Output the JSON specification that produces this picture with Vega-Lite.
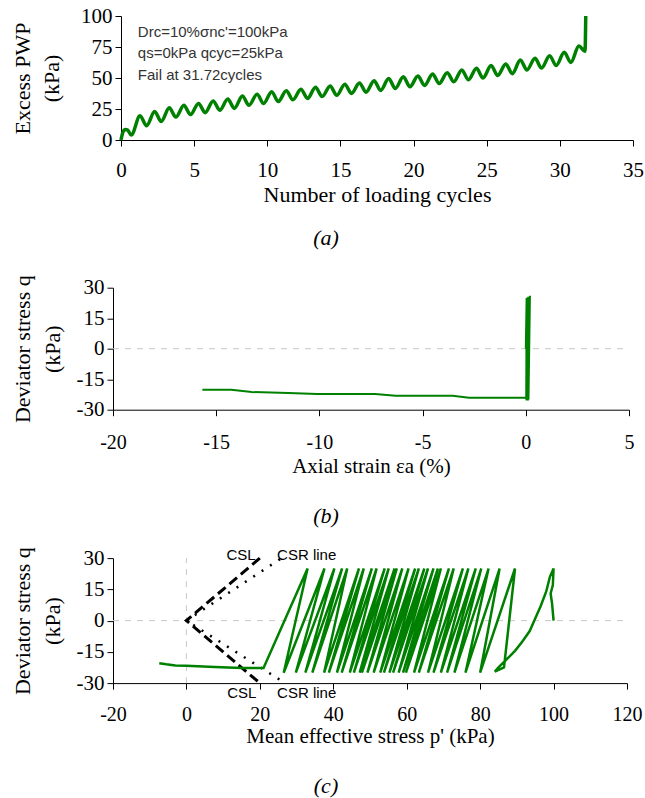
{
  "$schema": "https://vega.github.io/schema/vega-lite/v6.json",
  "background": "white",
  "padding": {"left": 11, "top": 5, "right": 0, "bottom": 0},
  "config": {
    "view": {"stroke": null},
    "axis": {"grid": false, "domainColor": "#000", "tickColor": "#000", "labelColor": "#000", "titleColor": "#000",
      "labelFont": "Liberation Serif", "titleFont": "Liberation Serif", "labelFontSize": 21, "titleFontSize": 22,
      "titleFontWeight": "normal", "tickSize": 6, "domainWidth": 1, "tickWidth": 1, "labelFlush": false, "labelOverlap": false, "labelPadding": 3},
    "title": {"font": "Liberation Serif", "fontSize": 22, "fontStyle": "italic", "fontWeight": "normal", "orient": "bottom", "anchor": "middle", "frame": "group", "color": "#000"}
  },
  "datasets": {
    "pwp": [
      {"N":0,"u":0},{"N":0.12,"u":6},{"N":0.3,"u":8.5},{"N":0.45,"u":8},{"N":0.7,"u":4},
      {"N":1.3,"u":19.5},{"N":1.75,"u":11.5},{"N":2.3,"u":23},{"N":2.75,"u":15},{"N":3.3,"u":26},{"N":3.75,"u":18.5},
      {"N":4.3,"u":28},{"N":4.75,"u":20.5},{"N":5.3,"u":29.5},{"N":5.75,"u":22},{"N":6.3,"u":31.5},{"N":6.75,"u":24},
      {"N":7.3,"u":33},{"N":7.75,"u":25.5},{"N":8.3,"u":35.5},{"N":8.75,"u":28},{"N":9.3,"u":36.8},{"N":9.75,"u":29.5},
      {"N":10.3,"u":39},{"N":10.75,"u":31},{"N":11.3,"u":39.8},{"N":11.75,"u":32.5},{"N":12.3,"u":41},{"N":12.75,"u":33.5},
      {"N":13.3,"u":42.5},{"N":13.75,"u":35},{"N":14.3,"u":43.5},{"N":14.75,"u":36},{"N":15.3,"u":45},{"N":15.75,"u":37.5},
      {"N":16.3,"u":46},{"N":16.75,"u":38.5},{"N":17.3,"u":47.8},{"N":17.75,"u":40},{"N":18.3,"u":49.5},{"N":18.75,"u":41.5},
      {"N":19.3,"u":51},{"N":19.75,"u":43},{"N":20.3,"u":51.6},{"N":20.75,"u":44},{"N":21.3,"u":53.2},{"N":21.75,"u":45.5},
      {"N":22.3,"u":54.3},{"N":22.75,"u":47},{"N":23.3,"u":56.5},{"N":23.75,"u":48.5},{"N":24.3,"u":57.8},{"N":24.75,"u":50},
      {"N":25.3,"u":60},{"N":25.75,"u":52},{"N":26.3,"u":61.3},{"N":26.75,"u":53.5},{"N":27.3,"u":64.5},{"N":27.75,"u":56.5},
      {"N":28.3,"u":65.9},{"N":28.75,"u":58},{"N":29.3,"u":68},{"N":29.75,"u":60},{"N":30.3,"u":70.7},{"N":30.75,"u":62.5},
      {"N":31.3,"u":75.8},{"N":31.72,"u":71.5},{"N":31.77,"u":100}
    ],
    "ann": [
      {"N":1.15,"u":86.8,"t":"Drc=10%σnc'=100kPa"},
      {"N":1.15,"u":70.4,"t":"qs=0kPa qcyc=25kPa"},
      {"N":1.15,"u":52.4,"t":"Fail at 31.72cycles"}
    ],
    "qe": [
      {"i":0,"e":0,"q":0},{"i":1,"e":0.04,"q":25},{"i":2,"e":0.02,"q":-25},{"i":3,"e":0.08,"q":25},{"i":4,"e":0.04,"q":-25.5},
      {"i":5,"e":0.12,"q":25.5},{"i":6,"e":0.07,"q":-25},{"i":7,"e":0.15,"q":25},{"i":8,"e":0.1,"q":-25.5},{"i":9,"e":0.2,"q":26},
      {"i":10,"e":0.13,"q":-25},{"i":11,"e":0.17,"q":25},{"i":12,"e":0.1,"q":-24.5},{"i":13,"e":0,"q":-24.1},
      {"i":14,"e":-2.75,"q":-24.1},{"i":15,"e":-3.54,"q":-23.1},{"i":16,"e":-6.3,"q":-23.1},{"i":17,"e":-7.3,"q":-22.3},
      {"i":18,"e":-10.1,"q":-22.3},{"i":19,"e":-11.5,"q":-21.8},{"i":20,"e":-13.28,"q":-21.3},{"i":21,"e":-14.27,"q":-20.2},
      {"i":22,"e":-15.67,"q":-20.2}
    ],
    "zb": [{"i":0,"e":-20,"q":0},{"i":1,"e":5,"q":0}],
    "zch": [{"i":0,"p":-20,"q":0},{"i":1,"p":120,"q":0}],
    "zcv": [{"i":0,"p":0,"q":-30},{"i":1,"p":0,"q":30}],
    "path": [
      {"i":0,"p":100,"q":0},{"i":1,"p":99.6,"q":8},{"i":2,"p":99.2,"q":13},{"i":3,"p":99.8,"q":17},{"i":4,"p":100,"q":25},
      {"i":5,"p":99,"q":21},{"i":6,"p":98,"q":14},{"i":7,"p":96.5,"q":7},{"i":8,"p":95,"q":1},{"i":9,"p":93.5,"q":-5},
      {"i":10,"p":91.5,"q":-10},{"i":11,"p":89.5,"q":-14.5},{"i":12,"p":87,"q":-19},{"i":13,"p":85,"q":-22.5},{"i":14,"p":84,"q":-24.5},
      {"i":15,"p":86.5,"q":-22.5},{"i":16,"p":89.5,"q":25},{"i":17,"p":80,"q":-25},{"i":18,"p":85.3,"q":25},{"i":19,"p":76,"q":-25},
      {"i":20,"p":82.3,"q":25},{"i":21,"p":73,"q":-25},{"i":22,"p":80.3,"q":25},{"i":23,"p":71,"q":-25},{"i":24,"p":78.8,"q":25},
      {"i":25,"p":69.3,"q":-25},{"i":26,"p":76.8,"q":25},{"i":27,"p":67.3,"q":-25},{"i":28,"p":75.3,"q":25},{"i":29,"p":65.8,"q":-25},
      {"i":30,"p":72.8,"q":25},{"i":31,"p":63.3,"q":-25},{"i":32,"p":71.5,"q":25},{"i":33,"p":62,"q":-25},{"i":34,"p":69.3,"q":25},
      {"i":35,"p":59.8,"q":-25},{"i":36,"p":68.5,"q":25},{"i":37,"p":59,"q":-25},{"i":38,"p":67.3,"q":25},{"i":39,"p":57.8,"q":-25},
      {"i":40,"p":65.8,"q":25},{"i":41,"p":56.3,"q":-25},{"i":42,"p":64.8,"q":25},{"i":43,"p":55.3,"q":-25},{"i":44,"p":63.3,"q":25},
      {"i":45,"p":53.8,"q":-25},{"i":46,"p":62.3,"q":25},{"i":47,"p":52.8,"q":-25},{"i":48,"p":60.5,"q":25},{"i":49,"p":51,"q":-25},
      {"i":50,"p":58.8,"q":25},{"i":51,"p":49.3,"q":-25},{"i":52,"p":57.3,"q":25},{"i":53,"p":47.8,"q":-25},{"i":54,"p":56.7,"q":25},
      {"i":55,"p":47.2,"q":-25},{"i":56,"p":55.1,"q":25},{"i":57,"p":45.6,"q":-25},{"i":58,"p":54,"q":25},{"i":59,"p":44.5,"q":-25},
      {"i":60,"p":51.8,"q":25},{"i":61,"p":42.3,"q":-25},{"i":62,"p":50.5,"q":25},{"i":63,"p":41,"q":-25},{"i":64,"p":48.3,"q":25},
      {"i":65,"p":38.8,"q":-25},{"i":66,"p":47,"q":25},{"i":67,"p":37.5,"q":-25},{"i":68,"p":43.8,"q":25},{"i":69,"p":34.3,"q":-25},
      {"i":70,"p":42.4,"q":25},{"i":71,"p":32.4,"q":-25},{"i":72,"p":40.3,"q":25},{"i":73,"p":29.8,"q":-25},{"i":74,"p":37.6,"q":25},
      {"i":75,"p":26.5,"q":-25},{"i":76,"p":33,"q":25},{"i":77,"p":21,"q":-22.8},{"i":78,"p":15,"q":-22.7},{"i":79,"p":7.7,"q":-22.3},
      {"i":80,"p":3,"q":-21.9},{"i":81,"p":0,"q":-21.7},{"i":82,"p":-3,"q":-21.5},{"i":83,"p":-5.5,"q":-21},{"i":84,"p":-7.4,"q":-20.5}
    ],
    "csl": [{"i":0,"p":20,"q":30},{"i":1,"p":0,"q":0},{"i":2,"p":20,"q":-30}],
    "csr": [{"i":0,"p":25.5,"q":29.5},{"i":1,"p":0,"q":0},{"i":2,"p":26,"q":-29}],
    "lab": [
      {"i":0,"p":10.9,"q":31.3,"t":"CSL"},{"i":1,"p":24.7,"q":31.3,"t":"CSR line"},
      {"i":2,"p":11.1,"q":-34.8,"t":"CSL"},{"i":3,"p":24.7,"q":-34.8,"t":"CSR line"}
    ]
  },
  "columns": 1,
  "spacing": 25.7,
  "concat": [
    {
      "width": 520, "height": 124,
      "title": {"text": "(a)", "offset": 23, "dx": -47},
      "encoding": {
        "x": {"field": "N", "type": "quantitative", "scale": {"domain": [0, 35], "range": [8, 520], "nice": false},
          "axis": {"values": [0,5,10,15,20,25,30,35], "title": "Number of loading cycles", "labelPadding": 13.5, "titlePadding": 3.5, "labelOverlap": false}},
        "y": {"field": "u", "type": "quantitative", "scale": {"domain": [0, 100], "nice": false},
          "axis": {"values": [0,25,50,75,100], "title": ["Excess PWP", "(kPa)"], "offset": -8, "titlePadding": 17.5, "titleLineHeight": 29, "labelOverlap": false}}
      },
      "layer": [
        {
          "data": {"name": "pwp"},
          "mark": {"type": "line", "color": "#008000", "strokeWidth": 3.5, "interpolate": "monotone"}
        },
        {
          "data": {"name": "ann"},
          "mark": {"type": "text", "align": "left", "baseline": "middle", "font": "Liberation Sans", "fontSize": 15, "color": "#333"},
          "encoding": {"text": {"field": "t"}}
        }
      ]
    },
    {
      "columns": 1,
      "spacing": 18.4,
      "concat": [
        {
          "width": 516, "height": 122,
          "title": {"text": "(b)", "offset": 29.8, "dx": -45},
          "encoding": {
            "x": {"field": "e", "type": "quantitative", "scale": {"domain": [-20, 5], "nice": false},
              "axis": {"values": [-20,-15,-10,-5,0,5], "labelExpr": "datum.value + ''", "title": "Axial strain εa (%)", "labelFontSize": 20, "titleFontSize": 21, "labelPadding": 17, "titlePadding": 2.5, "labelOverlap": false}},
            "y": {"field": "q", "type": "quantitative", "scale": {"domain": [-30, 30], "nice": false},
              "axis": {"values": [-30,-15,0,15,30], "labelExpr": "datum.value + ''", "title": ["Deviator stress q", "(kPa)"], "titlePadding": 12, "titleLineHeight": 30, "labelOverlap": false}},
            "order": {"field": "i", "type": "quantitative"}
          },
          "layer": [
            {
              "data": {"name": "zb"},
              "mark": {"type": "line", "color": "#c8c8c8", "strokeDash": [6, 6], "strokeWidth": 1}
            },
            {
              "data": {"name": "qe"},
              "mark": {"type": "line", "color": "#008000", "strokeWidth": 2}
            }
          ]
        },
        {
          "width": 514, "height": 125,
          "title": {"text": "(c)", "offset": 30, "dx": -44},
          "encoding": {
            "x": {"field": "p", "type": "quantitative", "scale": {"domain": [-20, 120], "nice": false},
              "axis": {"values": [-20,0,20,40,60,80,100,120], "labelExpr": "datum.value + ''", "title": "Mean effective stress p' (kPa)", "labelFontSize": 20, "titleFontSize": 21, "labelPadding": 15, "titlePadding": 1, "labelOverlap": false}},
            "y": {"field": "q", "type": "quantitative", "scale": {"domain": [-30, 30], "nice": false},
              "axis": {"values": [-30,-15,0,15,30], "labelExpr": "datum.value + ''", "title": ["Deviator stress q", "(kPa)"], "titlePadding": 12, "titleLineHeight": 30, "labelOverlap": false}},
            "order": {"field": "i", "type": "quantitative"}
          },
          "layer": [
            {
              "data": {"name": "zch"},
              "mark": {"type": "line", "color": "#c8c8c8", "strokeDash": [6, 6], "strokeWidth": 1}
            },
            {
              "data": {"name": "zcv"},
              "mark": {"type": "line", "color": "#c8c8c8", "strokeDash": [6, 6], "strokeWidth": 1}
            },
            {
              "data": {"name": "csl"},
              "mark": {"type": "line", "color": "#000", "strokeWidth": 3, "strokeDash": [10, 5]}
            },
            {
              "data": {"name": "csr"},
              "mark": {"type": "line", "color": "#000", "strokeWidth": 2.5, "strokeDash": [2, 8]}
            },
            {
              "data": {"name": "path"},
              "mark": {"type": "line", "color": "#008000", "strokeWidth": 2.5}
            },
            {
              "data": {"name": "lab"},
              "mark": {"type": "text", "align": "left", "baseline": "middle", "font": "Liberation Sans", "fontSize": 15, "color": "#000"},
              "encoding": {"text": {"field": "t"}}
            }
          ]
        }
      ]
    }
  ]
}
